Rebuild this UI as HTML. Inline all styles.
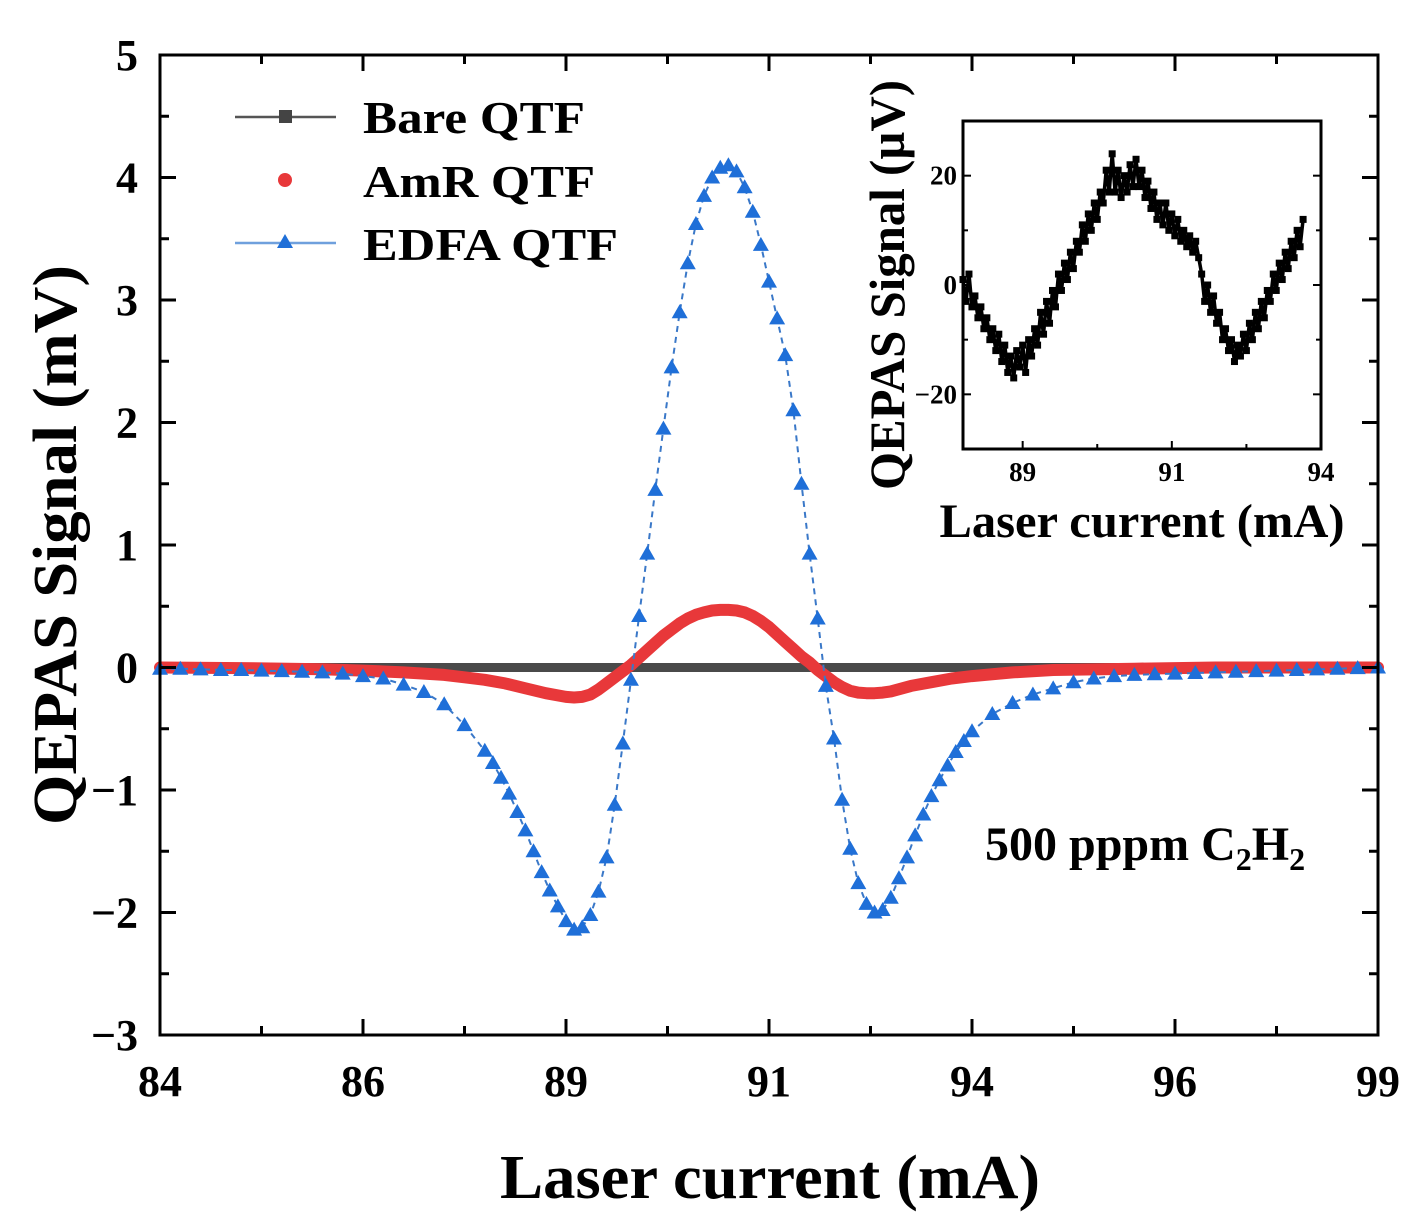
<!DOCTYPE html>
<html><head><meta charset="utf-8"><style>
html,body{margin:0;padding:0;background:#fff;}
svg{display:block;font-family:"Liberation Serif",serif;font-weight:bold;}
</style></head><body>
<svg id="chart" width="1428" height="1223" viewBox="0 0 1428 1223" xmlns="http://www.w3.org/2000/svg">
<rect width="1428" height="1223" fill="#fff"/>
<g id="main-series"></g>
<g id="main-axes"></g>
<g id="inset"></g>
<text transform="translate(76,545) rotate(-90)" text-anchor="middle" font-size="62" textLength="560" lengthAdjust="spacingAndGlyphs">QEPAS Signal (mV)</text>
<text x="770" y="1198" text-anchor="middle" font-size="62" textLength="540" lengthAdjust="spacingAndGlyphs">Laser current (mA)</text>
<text x="985" y="860" font-size="48">500 pppm C<tspan font-size="32" dy="10">2</tspan><tspan dy="-10">H</tspan><tspan font-size="32" dy="10">2</tspan></text>
<g>
 <g>
  <line x1="235" y1="117" x2="336" y2="117" stroke="#555" stroke-width="2.5"/>
  <rect x="279" y="110" width="13" height="13" fill="#444"/>
  <text x="363" y="133" font-size="46" textLength="222" lengthAdjust="spacingAndGlyphs">Bare QTF</text>
 </g>
 <g>
  <circle cx="285" cy="180" r="7" fill="#e8383a"/>
  <text x="363" y="197" font-size="46" textLength="232" lengthAdjust="spacingAndGlyphs">AmR QTF</text>
 </g>
 <g>
  <line x1="235" y1="243" x2="336" y2="243" stroke="#6fa0dd" stroke-width="2.5"/>
  <polygon points="285,234 293,248 277,248" fill="#1f6fd8"/>
  <text x="363" y="260" font-size="46" textLength="255" lengthAdjust="spacingAndGlyphs">EDFA QTF</text>
 </g>
</g>
</svg>
<script>
// ---- main chart data ----
const bareX = [84,85,86,87,88,89,90,91,92,93,94,95,96,97,98,99];
const bareY = [0,0,0,0,0,0,0,0,0,0,0,0,0,0,0,0];
const amrX = [84,85,86,86.5,87,87.5,87.75,88,88.25,88.5,88.75,89,89.1,89.2,89.3,89.4,89.5,89.6,89.7,89.8,89.9,90,90.1,90.2,90.3,90.4,90.5,90.6,90.7,90.8,90.9,91,91.1,91.2,91.3,91.4,91.5,91.6,91.7,91.8,91.9,92,92.1,92.2,92.3,92.4,92.5,92.6,92.7,92.8,92.9,93,93.25,93.5,93.75,94,94.5,95,96,97,98,99];
const amrY = [0,-0.005,-0.015,-0.025,-0.04,-0.06,-0.08,-0.1,-0.13,-0.17,-0.21,-0.24,-0.245,-0.24,-0.22,-0.18,-0.13,-0.08,-0.03,0.02,0.08,0.14,0.2,0.26,0.31,0.36,0.4,0.43,0.45,0.465,0.47,0.47,0.465,0.45,0.42,0.38,0.33,0.27,0.21,0.15,0.09,0.04,-0.02,-0.07,-0.12,-0.16,-0.19,-0.205,-0.21,-0.21,-0.205,-0.195,-0.15,-0.12,-0.09,-0.07,-0.04,-0.02,-0.01,0,0,0];
const edfaX = [84,84.25,84.5,84.75,85,85.25,85.5,85.75,86,86.25,86.5,86.75,87,87.25,87.5,87.75,88,88.1,88.2,88.3,88.4,88.5,88.6,88.7,88.8,88.9,89,89.1,89.2,89.3,89.4,89.5,89.6,89.7,89.8,89.9,90,90.1,90.2,90.3,90.4,90.5,90.6,90.7,90.8,90.9,91,91.1,91.2,91.3,91.4,91.5,91.6,91.7,91.8,91.9,92,92.1,92.2,92.3,92.4,92.5,92.6,92.7,92.8,92.9,93,93.1,93.2,93.3,93.4,93.5,93.6,93.7,93.8,93.9,94,94.25,94.5,94.75,95,95.25,95.5,95.75,96,96.25,96.5,96.75,97,97.25,97.5,97.75,98,98.25,98.5,98.75,99];
const edfaY = [-0.01,-0.01,-0.015,-0.02,-0.02,-0.025,-0.03,-0.035,-0.04,-0.05,-0.07,-0.09,-0.14,-0.2,-0.3,-0.47,-0.68,-0.78,-0.9,-1.03,-1.18,-1.33,-1.5,-1.67,-1.82,-1.95,-2.07,-2.14,-2.12,-2.02,-1.83,-1.55,-1.12,-0.62,-0.1,0.42,0.93,1.45,1.95,2.45,2.9,3.3,3.62,3.85,4.0,4.08,4.1,4.05,3.92,3.72,3.45,3.15,2.85,2.55,2.1,1.5,0.93,0.4,-0.15,-0.58,-1.08,-1.48,-1.76,-1.93,-2.0,-1.98,-1.88,-1.72,-1.55,-1.37,-1.2,-1.05,-0.92,-0.8,-0.69,-0.6,-0.52,-0.38,-0.29,-0.22,-0.17,-0.12,-0.09,-0.07,-0.06,-0.055,-0.05,-0.045,-0.04,-0.035,-0.03,-0.025,-0.02,-0.015,-0.01,-0.005,0];
const xTickVals = [84,86.5,89,91.5,94,96.5,99];
const xTickLabels = ["84","86","89","91","94","96","99"];
const yTickVals = [5,4,3,2,1,0,-1,-2,-3];
const yTickLabels = ["5","4","3","2","1","0","\u22121","\u22122","\u22123"];
// ---- inset data ----
const insetX = [88.00,88.05,88.10,88.15,88.20,88.25,88.30,88.35,88.40,88.45,88.50,88.55,88.60,88.65,88.70,88.75,88.80,88.85,88.90,88.95,89.00,89.05,89.10,89.15,89.20,89.25,89.30,89.35,89.40,89.45,89.50,89.55,89.60,89.65,89.70,89.75,89.80,89.85,89.90,89.95,90.00,90.05,90.10,90.15,90.20,90.25,90.30,90.35,90.40,90.45,90.50,90.55,90.60,90.65,90.70,90.75,90.80,90.85,90.90,90.95,91.00,91.05,91.10,91.15,91.20,91.25,91.30,91.35,91.40,91.45,91.50,91.55,91.60,91.65,91.70,91.75,91.80,91.85,91.90,91.95,92.00,92.05,92.10,92.15,92.20,92.25,92.30,92.35,92.40,92.45,92.50,92.55,92.60,92.65,92.70,92.75,92.80,92.85,92.90,92.95,93.00,93.05,93.10,93.15,93.20,93.25,93.30,93.35,93.40,93.45,93.50,93.55,93.60,93.65,93.70];
const insetY = [1,-3,2,-4,-2,-6,-4,-8,-6,-10,-8,-12,-9,-14,-11,-16,-13,-17,-12,-15,-11,-16,-10,-13,-8,-11,-5,-9,-3,-7,-1,-4,2,-1,4,1,6,3,8,6,11,8,13,10,15,12,17,15,21,17,24,17,21,16,20,17,22,18,23,18,21,16,19,14,17,12,15,11,15,10,13,9,12,8,10,7,9,6,8,5,2,-3,0,-5,-2,-7,-5,-10,-8,-12,-10,-14,-11,-13,-9,-12,-7,-10,-5,-8,-3,-6,-1,-3,2,-1,4,1,6,3,8,5,10,7,12];
const insetXTickVals = [89,91.5,94];
const insetXTickLabels = ["89","91","94"];
const insetYTickVals = [20,0,-20];
const insetYTickLabels = ["20","0","\u221220"];

const NS = "http://www.w3.org/2000/svg";
function mk(tag, attrs, parent){ const e=document.createElementNS(NS,tag); for(const k in attrs) e.setAttribute(k,attrs[k]); parent.appendChild(e); return e; }

const L=160,R=1378,T=55,B=1035,X0=84,X1=99,Y0=-3,Y1=5;
const sx=v=>L+(v-X0)/(X1-X0)*(R-L);
const sy=v=>B-(v-Y0)/(Y1-Y0)*(B-T);
const ser=document.getElementById('main-series');
const ax=document.getElementById('main-axes');

function pathFrom(xs,ys,fx,fy){ return xs.map((x,i)=>(i?'L':'M')+fx(x).toFixed(1)+','+fy(ys[i]).toFixed(1)).join(''); }

let p=mk('path',{d:pathFrom(bareX,bareY,sx,sy),fill:'none',stroke:'#4a4a4a','stroke-width':9},ser);


p=mk('path',{d:pathFrom(amrX,amrY,sx,sy),fill:'none',stroke:'#e8383a','stroke-width':12,'stroke-linejoin':'round','stroke-linecap':'round'},ser);


p=mk('path',{d:pathFrom(edfaX,edfaY,sx,sy),fill:'none',stroke:'#3a78c8','stroke-width':2,'stroke-dasharray':'6,5'},ser);


edfaX.forEach((x,i)=>{
  const cx=sx(x), cy=sy(edfaY[i]);
  const t=mk('polygon',{points:`${cx},${cy-8} ${cx+8},${cy+6} ${cx-8},${cy+6}`,fill:'#1f6fd8'},ser);
  
  
});

mk('rect',{x:L,y:T,width:R-L,height:B-T,fill:'none',stroke:'#000','stroke-width':3},ax);
xTickVals.forEach((v,i)=>{
  const x=sx(v);
  mk('line',{x1:x,y1:B,x2:x,y2:B-16,stroke:'#000','stroke-width':3},ax);
  mk('line',{x1:x,y1:T,x2:x,y2:T+16,stroke:'#000','stroke-width':3},ax);
  if(i<xTickVals.length-1){ const m=sx(v+1.25);
    mk('line',{x1:m,y1:B,x2:m,y2:B-9,stroke:'#000','stroke-width':3},ax);
    mk('line',{x1:m,y1:T,x2:m,y2:T+9,stroke:'#000','stroke-width':3},ax);}
  const t=mk('text',{x:x,y:1096,'text-anchor':'middle','font-size':44},ax); t.textContent=xTickLabels[i];
  
  
});
yTickVals.forEach((v,i)=>{
  const y=sy(v);
  mk('line',{x1:L,y1:y,x2:L+16,y2:y,stroke:'#000','stroke-width':3},ax);
  mk('line',{x1:R,y1:y,x2:R-16,y2:y,stroke:'#000','stroke-width':3},ax);
  if(v>Y0){ const m=sy(v-0.5);
    mk('line',{x1:L,y1:m,x2:L+9,y2:m,stroke:'#000','stroke-width':3},ax);
    mk('line',{x1:R,y1:m,x2:R-9,y2:m,stroke:'#000','stroke-width':3},ax);}
  const t=mk('text',{x:138,y:y+15,'text-anchor':'end','font-size':44},ax); t.textContent=yTickLabels[i];
  
  
});

const g=document.getElementById('inset');
const iL=963,iR=1321,iT=121,iB=449,iX0=88,iX1=94,iY0=-30,iY1=30;
const ix=v=>iL+(v-iX0)/(iX1-iX0)*(iR-iL);
const iy=v=>iB-(v-iY0)/(iY1-iY0)*(iB-iT);
p=mk('path',{d:pathFrom(insetX,insetY,ix,iy),fill:'none',stroke:'#000','stroke-width':3.5,'stroke-linejoin':'round'},g);


insetX.forEach((x,i)=>{
  const r=mk('rect',{x:ix(x)-3.5,y:iy(insetY[i])-3.5,width:7,height:7,fill:'#000'},g);
  
  
});
mk('rect',{x:iL,y:iT,width:iR-iL,height:iB-iT,fill:'none',stroke:'#000','stroke-width':3},g);
insetXTickVals.forEach((v,i)=>{
  const x=ix(v);
  mk('line',{x1:x,y1:iB,x2:x,y2:iB-8,stroke:'#000','stroke-width':2},g);
  if(i<insetXTickVals.length-1){const m=ix(v+1.25); mk('line',{x1:m,y1:iB,x2:m,y2:iB-5,stroke:'#000','stroke-width':2},g);}
  const t=mk('text',{x:x,y:481,'text-anchor':'middle','font-size':27},g); t.textContent=insetXTickLabels[i];
  
  
});
[20,10,0,-10,-20].forEach(v=>{
  const y=iy(v), len=(v%20===0)?8:5;
  mk('line',{x1:iL,y1:y,x2:iL+len,y2:y,stroke:'#000','stroke-width':2},g);
  mk('line',{x1:iR,y1:y,x2:iR-len,y2:y,stroke:'#000','stroke-width':2},g);
});
insetYTickVals.forEach((v,i)=>{
  const t=mk('text',{x:957,y:iy(v)+9,'text-anchor':'end','font-size':27},g); t.textContent=insetYTickLabels[i];
  
  
});
let t=mk('text',{transform:'translate(904,285) rotate(-90)','text-anchor':'middle','font-size':50,textLength:410,lengthAdjust:'spacingAndGlyphs'},g); t.textContent='QEPAS Signal (\u00b5V)';


t=mk('text',{x:1142,y:537,'text-anchor':'middle','font-size':48,textLength:405,lengthAdjust:'spacingAndGlyphs'},g); t.textContent='Laser current (mA)';


</script>
</body></html>
